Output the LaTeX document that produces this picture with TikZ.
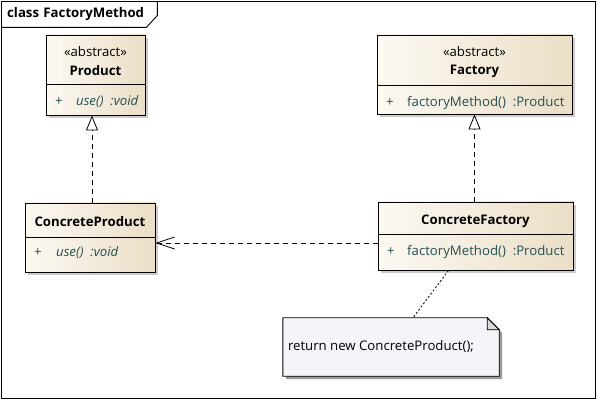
\documentclass[tikz,border=0pt]{standalone}
\usepackage{fontspec}
\setmainfont{Open Sans}
\usetikzlibrary{arrows.meta,shadows,positioning}

\definecolor{clslight}{RGB}{252,249,243}
\definecolor{clsdark}{RGB}{235,222,198}
\definecolor{optext}{RGB}{36,80,82}
\definecolor{notefill}{RGB}{246,244,248}

\tikzset{
  umlclass/.style={draw, line width=0.9pt, left color=clslight, right color=clsdark,
    drop shadow={shadow xshift=3pt, shadow yshift=-3pt, fill=black!40}},
  txt/.style={inner sep=0pt, font=\fontsize{13.2}{15}\selectfont},
  cname/.style={txt, font=\fontsize{13.2}{15}\selectfont\bfseries},
  optxt/.style={txt, anchor=west, text=optext},
  realize/.style={dashed, dash pattern=on 5pt off 4pt, line width=0.8pt,
    -{Triangle[open, length=15pt, width=12pt, fill=white]}},
  depend/.style={dashed, dash pattern=on 5pt off 4pt, line width=0.8pt,
    -{Straight Barb[length=18pt, width=12pt, line width=0.8pt]}},
  notelink/.style={dash pattern=on 2pt off 2pt, line width=0.8pt},
}

\begin{document}
\begin{tikzpicture}[x=1pt, y=-1pt]
  \useasboundingbox (0,0) rectangle (598,401);
  \draw[line width=0.9pt] (1,1) rectangle (595,398);

  % frame title
  \node[anchor=north west, txt, font=\fontsize{13.2}{15}\selectfont\bfseries,
    minimum width=156pt, minimum height=26pt, text width=144pt, inner xsep=6pt, align=left]
    (title) at (1,1) {class FactoryMethod};
  \draw[line width=0.9pt] (title.south west) -- ([xshift=-11pt]title.south east)
    -- ([yshift=12pt]title.south east) -- (title.north east);

  % classes
  \node[umlclass, minimum width=99pt, minimum height=80pt] (product) at (95.5,75) {};
  \draw[line width=0.9pt] (product.west |- 0,84) -- (product.east |- 0,84);
  \node[txt] at (product.center |- 0,52) {«abstract»};
  \node[cname] at (product.center |- 0,71) {Product};
  \node[optxt] at (55,102) {+};
  \node[optxt] at (76,102) {\itshape use()\ \ :void};

  \node[umlclass, minimum width=195pt, minimum height=79pt] (factory) at (474.5,74.5) {};
  \draw[line width=0.9pt] (factory.west |- 0,85) -- (factory.east |- 0,85);
  \node[txt] at (factory.center |- 0,52) {«abstract»};
  \node[cname] at (factory.center |- 0,71) {Factory};
  \node[optxt] at (386,103) {+};
  \node[optxt] at (407,103) {factoryMethod()\ \ :Product};

  \node[umlclass, minimum width=130pt, minimum height=69pt] (cproduct) at (90,237.5) {};
  \draw[line width=0.9pt] (cproduct.west |- 0,237) -- (cproduct.east |- 0,237);
  \node[cname] at (cproduct.center |- 0,222) {ConcreteProduct};
  \node[optxt] at (34,253) {+};
  \node[optxt] at (56,253) {\itshape use()\ \ :void};

  \node[umlclass, minimum width=195pt, minimum height=68pt] (cfactory) at (475.5,236) {};
  \draw[line width=0.9pt] (cfactory.west |- 0,234) -- (cfactory.east |- 0,234);
  \node[cname] at (cfactory.center |- 0,221) {ConcreteFactory};
  \node[optxt] at (387,252) {+};
  \node[optxt] at (407,252) {factoryMethod()\ \ :Product};

  % note
  \node[txt, minimum width=216pt, minimum height=58pt, text width=206pt, inner xsep=5pt,
    align=left] (note) at (391,347) {};
  \fill[black!40] ([shift={(3pt,-3pt)}]note.south west) -- ([shift={(3pt,-3pt)}]note.north west)
    -- ([shift={(-9pt,-3pt)}]note.north east) -- ([shift={(3pt,-15pt)}]note.north east)
    -- ([shift={(3pt,-3pt)}]note.south east) -- cycle;
  \filldraw[fill=notefill, line width=0.9pt] (note.south west) -- (note.north west)
    -- ([xshift=-12pt]note.north east) -- ([yshift=-12pt]note.north east)
    -- (note.south east) -- cycle;
  \filldraw[fill=black!15, line width=0.9pt] ([xshift=-12pt]note.north east)
    |- ([yshift=-12pt]note.north east) -- cycle;
  \node[txt, anchor=west] at ([xshift=5pt]note.west) {return new ConcreteProduct();};

  % relations
  \draw[realize] ([xshift=2pt]cproduct.north) -- ([xshift=2pt]cproduct.north |- product.south);
  \draw[realize] (cfactory.north -| factory.south) -- (factory.south);
  \draw[depend] ([yshift=-7pt]cfactory.west) -- ([yshift=-7pt]cfactory.west -| cproduct.east);
  \draw[notelink] ([xshift=-27pt]cfactory.south) -- ([xshift=22pt]note.north);
\end{tikzpicture}
\end{document}
